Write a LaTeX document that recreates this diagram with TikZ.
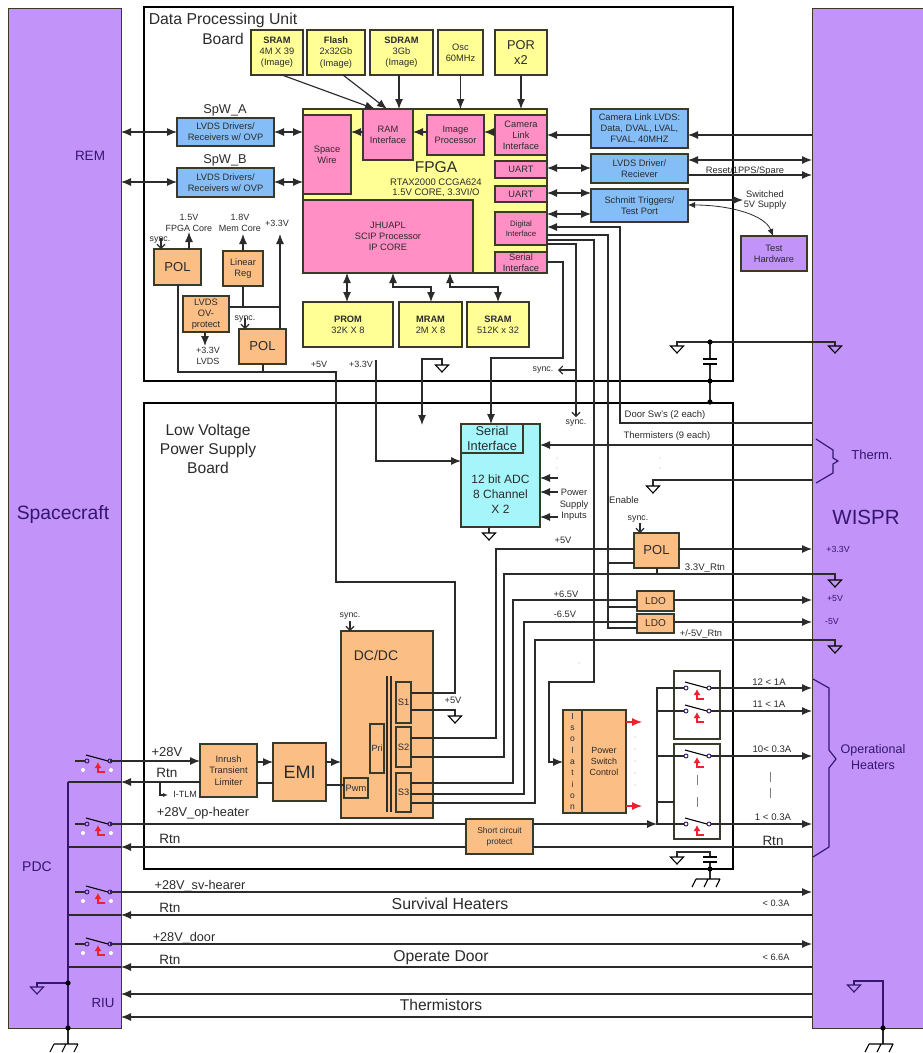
\documentclass[tikz,border=0pt]{standalone}
\usepackage{fontspec}
\setmainfont{Liberation Sans}
\usetikzlibrary{arrows.meta}
\definecolor{panelc}{HTML}{C293F9}
\definecolor{yel}{HTML}{FFFF96}
\definecolor{pnk}{HTML}{FF8FC4}
\definecolor{blu}{HTML}{85BDF6}
\definecolor{org}{HTML}{FBBE85}
\definecolor{cya}{HTML}{A6F5FA}
\definecolor{ink}{HTML}{2B2B2B}
\definecolor{dpur}{HTML}{33166E}
\definecolor{edge}{HTML}{3A3A2A}
\definecolor{pred}{HTML}{F02030}
\newcounter{lblc}
\newcommand{\fsz}[2]{\fontsize{#1}{#2}\selectfont}
\newcommand{\fsl}[1]{\fontsize{#1}{#1}\selectfont\baselineskip=1.22\baselineskip\relax}
\newcommand{\bx}[7]{\node[bxs,#2,minimum width={(#5-#3)*1pt},minimum height={(#6-#4)*1pt},anchor=north west] (#1) at (#3,#4) {#7};}
\newcommand{\lb}[4]{\stepcounter{lblc}\node[lbs,font=\fsl{#3}] (lbl\arabic{lblc}) at (#1,#2) {#4};}
\newcommand{\lbc}[5]{\stepcounter{lblc}\node[lbs,text=#4,font=\fsl{#3}] (lbl\arabic{lblc}) at (#1,#2) {#5};}
\tikzset{
  >={Latex[length=10pt,width=8pt]},
  bxs/.style={draw=edge,line width=1.2pt,inner sep=0pt,outer sep=0pt,align=center,text=ink,font=\fsz{9.3}{11.2}},
  lbs/.style={inner sep=0pt,outer sep=0pt,align=center,text=ink},
  wire/.style={draw=ink,line width=1.15pt},
  pline/.style={draw=dpur,line width=1.15pt},
  barb/.style={>={Straight Barb[length=4pt,width=8pt]}},
  board/.style={draw=black,line width=2pt,fill=white},
  ybox/.style={fill=yel},pbox/.style={fill=pnk},bbox/.style={fill=blu},obox/.style={fill=org},
  gndsym/.pic={\draw[line width=1.1pt] (-6.5,0)--(6.5,0)--(0,7)--cycle;},
  earthsym/.pic={\draw[line width=1.1pt] (-12,0)--(12,0) (-12,0)--(-16,8) (0,0)--(-4,8) (12,0)--(8,8);},
  capsym/.pic={\draw[line width=1.1pt] (-7,0)--(7,0) (-7,5)--(7,5);},
  swsym/.pic={
    \draw[line width=.9pt,dpur] (0,0) circle[radius=2pt] (23,0) circle[radius=2pt];
    \draw[line width=1.1pt,black] (-1,-6)--(21,0);
    \draw[line width=1.1pt,pred,-{Latex[length=6pt,width=7pt]}] (18,11)--(11,11)--(11,1);
  },
  whdots/.pic={\fill[white] (-4,9) circle[radius=2pt] (24,9) circle[radius=2pt];},
  dotm/.style={fill=black},
}
\begin{document}
\begin{tikzpicture}[x=1pt,y=-1pt]
\useasboundingbox (0,0) rectangle (923,1053);
\fill[white] (0,0) rectangle (923,1053);
% side panels
\node[draw=edge,line width=1pt,fill=panelc,minimum width=113pt,minimum height=1020pt,anchor=north west,inner sep=0pt,outer sep=0pt] (spc) at (8,8) {};
\node[draw=edge,line width=1pt,fill=panelc,minimum width=116pt,minimum height=1020pt,anchor=north west,inner sep=0pt,outer sep=0pt] (wsp) at (812,8) {};
% boards
\node[board,minimum width=589pt,minimum height=374pt,anchor=north west,inner sep=0pt,outer sep=0pt] (dpu) at (144,7) {};
\node[board,minimum width=589pt,minimum height=466pt,anchor=north west,inner sep=0pt,outer sep=0pt] (lvps) at (144,403) {};
% DPU blocks
\bx{msram}{ybox}{251}{30}{303}{75}{\textbf{SRAM}\\4M X 39\\(Image)}
\bx{flash}{ybox}{307}{30}{365}{75}{\textbf{Flash}\\2x32Gb\\(Image)}
\bx{sdram}{ybox}{370}{30}{433}{75}{\textbf{SDRAM}\\3Gb\\(Image)}
\bx{osc}{ybox}{438}{30}{483}{75}{Osc\\60MHz}
\bx{por}{ybox,font=\fsz{12.8}{15}}{495}{30}{547}{75}{POR\\x2}
\bx{fpga}{ybox}{303}{109}{547}{273}{}
\bx{ramif}{pbox}{363}{109}{413}{160}{RAM\\Interface}
\bx{imgp}{pbox}{427}{115}{484}{155}{Image\\Processor}
\bx{camif}{pbox}{495}{115}{547}{155}{Camera\\Link\\Interface}
\bx{space}{pbox}{303}{115}{351}{194}{Space\\Wire}
\bx{scip}{pbox}{303}{200}{473}{273}{JHUAPL\\SCIP Processor\\IP CORE}
\bx{uarta}{pbox}{495}{161}{547}{178}{UART}
\bx{uartb}{pbox}{495}{186}{547}{202}{UART}
\bx{digif}{pbox,font=\fsz{7.8}{10}}{495}{212}{547}{245}{Digital\\Interface}
\bx{serif}{pbox}{495}{252}{547}{273}{Serial\\Interface}
\bx{spwa}{bbox}{177}{118}{274}{146}{LVDS Drivers/\\Receivers w/ OVP}
\bx{spwb}{bbox}{177}{168}{274}{197}{LVDS Drivers/\\Receivers w/ OVP}
\bx{camlv}{bbox}{591}{109}{688}{148}{Camera Link LVDS:\\Data, DVAL, LVAL,\\FVAL, 40MHZ}
\bx{lvdsd}{bbox}{591}{154}{688}{183}{LVDS Driver/\\Reciever}
\bx{schm}{bbox}{591}{189}{688}{222}{Schmitt Triggers/\\Test Port}
\bx{testh}{fill=panelc}{741}{236}{807}{271}{Test\\Hardware}
\bx{prom}{ybox}{303}{302}{393}{347}{\textbf{PROM}\\32K X 8}
\bx{mram}{ybox}{399}{302}{462}{347}{\textbf{MRAM}\\2M X 8}
\bx{lsram}{ybox}{467}{302}{529}{347}{\textbf{SRAM}\\512K x 32}
\bx{polone}{obox,font=\fsz{13}{14}}{154}{249}{201}{285}{POL}
\bx{linreg}{obox}{223}{251}{263}{286}{Linear\\Reg}
\bx{lvdsov}{obox}{183}{296}{229}{332}{LVDS\\OV-\\protect}
\bx{poltwo}{obox,font=\fsz{13}{14}}{239}{329}{286}{364}{POL}
% LVPS blocks
\bx{adc}{fill=cya,font=\fsz{12}{15}}{461}{424}{540}{527}{\rule{0pt}{30pt}\\12 bit ADC\\8 Channel\\X 2}
\bx{adcser}{fill=cya,font=\fsz{12.8}{14.5}}{461}{424}{523}{453}{Serial\\Interface}
\bx{polthr}{obox,font=\fsz{13}{14}}{634}{533}{679}{568}{POL}
\bx{ldoa}{obox,font=\fsz{10}{11}}{637}{591}{674}{611}{LDO}
\bx{ldob}{obox,font=\fsz{10}{11}}{637}{614}{674}{633}{LDO}
\bx{dcdc}{obox}{341}{631}{433}{818}{}
\bx{pri}{obox,font=\fsz{9}{11}}{370}{724}{384}{773}{Pri}
\bx{pwm}{obox}{344}{778}{368}{798}{Pwm}
\bx{sa}{obox}{396}{682}{411}{723}{S1}
\bx{sb}{obox}{396}{727}{411}{767}{S2}
\bx{sc}{obox}{396}{773}{411}{812}{S3}
\bx{inrush}{obox}{200}{744}{257}{797}{Inrush\\Transient\\Limiter}
\bx{emi}{obox,font=\fsz{18}{20}}{273}{743}{326}{801}{EMI}
\bx{iso}{obox,font=\fsz{8.5}{11.3}}{563}{710}{582}{813}{I\\s\\o\\l\\a\\t\\i\\o\\n}
\bx{pswc}{obox,font=\fsz{8.9}{11.2}}{582}{710}{626}{813}{Power\\Switch\\Control}
\bx{scp}{obox,font=\fsz{8.4}{11.2}}{466}{819}{533}{854}{Short circuit\\protect}
\node[draw=edge,line width=1.1pt,minimum width=46pt,minimum height=68pt,anchor=north west,inner sep=0pt,outer sep=0pt] (swa) at (674,671) {};
\node[draw=edge,line width=1.1pt,minimum width=46pt,minimum height=95pt,anchor=north west,inner sep=0pt,outer sep=0pt] (swb) at (674,744) {};
% transformer bars
\draw[wire] (387,676)--(387,812) (391,676)--(391,812);
% memory arrows
\draw[wire,->] (msram.south -| 282,0) -- (ramif.north -| 375,0);
\draw[wire,->] (flash.south -| 343,0) -- (ramif.north -| 387,0);
\draw[wire,->] (sdram.south -| 399,0) -- (ramif.north -| 399,0);
\draw[wire,->] (osc.south) -- (fpga.north -| osc.south);
\draw[wire,->] (por.south) -- (fpga.north -| por.south);
% internal FPGA
\draw[wire,->] (imgp.west |- 0,132) -- (ramif.east |- 0,132);
\draw[wire,->] (ramif.west |- 0,132) -- (space.east |- 0,132);
\draw[wire,->] (camif.west |- 0,132) -- (imgp.east |- 0,132);
% SpaceWire
\draw[wire,<->] (spc.east |- 0,132) -- (spwa.west |- 0,132);
\draw[wire,<->] (spc.east |- 0,182) -- (spwb.west |- 0,182);
\draw[wire,<->] (spwa.east |- 0,132) -- (space.west |- 0,132);
\draw[wire,<->] (spwb.east |- 0,182) -- (space.west |- 0,182);
% right of FPGA
\draw[wire,->] (wsp.west |- 0,135) -- (camlv.east |- 0,135);
\draw[wire,->] (camlv.west |- 0,135) -- (camif.east |- 0,135);
\draw[wire,<->] (lvdsd.east |- 0,160) -- (wsp.west |- 0,160);
\draw[wire,->] (lvdsd.east |- 0,175) -- (wsp.west |- 0,175);
\draw[wire,<->] (uarta.east |- 0,168) -- (lvdsd.west |- 0,168);
\draw[wire,<->] (uartb.east |- 0,193) -- (schm.west |- 0,193);
\draw[wire,<->] (digif.east |- 0,214) -- (schm.west |- 0,214);
\coordinate (swsup) at (743,200);
\draw[wire,->] (schm.east |- 0,200) -- (swsup);
\draw[draw=ink,line width=.8pt,<->,>={Latex[length=7pt,width=6pt]}] (schm.east |- 0,205) .. controls (730,205) and (765,215) .. (testh.north -| 773,0);
% DPU to LVPS verticals
\draw[wire,<-] (digif.east |- 0,227) -| (620,423) -- (wsp.west |- 0,423);
\draw[wire] (digif.east |- 0,235) -| (608,628) -- (ldob.west |- 0,628);
\draw[wire] (608,563) -- (polthr.west |- 0,563);
\draw[wire] (608,607) -- (ldoa.west |- 0,607);
\draw[wire,->] (digif.east |- 0,240) -| (594,682) -| (549,762) -- (iso.west |- 0,762);
\coordinate (syncdn) at (576,417);
\draw[wire,->,barb] (digif.east |- 0,244) -| (syncdn);
\coordinate (syncl) at (558,370);
\draw[wire,->,barb] (576,370) -- (syncl);
\draw[wire,->] (serif.east |- 0,262) -| (563,358) -| (adcser.north -| 491,0);
\draw[wire,->] (376,360) |- (adc.west |- 0,461);
\coordinate (dngnd) at (422,425);
\draw[wire,->] (442,365) |- (422,359) -- (dngnd);
% prom etc
\draw[wire,<->] (scip.south -| 347,0) -- (prom.north -| 347,0);
\draw[wire,<->] (scip.south -| 393,0) |- (431,287) -- (mram.north -| 431,0);
\draw[wire,<->] (scip.south -| 450,0) |- (498,287) -- (lsram.north -| 498,0);
% POLs of DPU
\coordinate (vone) at (189,232);
\coordinate (vtwo) at (243,234);
\coordinate (vthr) at (280,234);
\coordinate (vfour) at (205,346);
\draw[wire,->] (polone.north -| 189,0) -- (vone);
\draw[wire,->] (linreg.north -| 243,0) -- (vtwo);
\draw[wire,->] (poltwo.north -| 280,0) -- (vthr);
\draw[wire] (lvdsov.east |- 0,307) -- (280,307);
\draw[wire] (linreg.south -| 243,0) -- (243,307);
\draw[wire,->] (lvdsov.south -| 205,0) -- (vfour);
\draw[wire,->,barb] (161,238) -- (polone.north -| 161,0);
\draw[wire,->,barb] (245,318) -- (poltwo.north -| 245,0);
\draw[wire] (polone.south -| 178,0) |- (336,372) |- (455,582) |- (sa.east |- 0,693);
\draw[wire] (poltwo.south -| 263,0) -- (263,372);
% capacitor and grounds top
\draw[wire] (677,346) |- (710,342) -- (835,342) -- (835,346);
\draw[wire] (710,342) -- (710,359) (710,364) -- (710,402);
\pic at (710,359) {capsym};
\fill[dotm] (710,342) circle[radius=2.6pt] (710,381) circle[radius=2.6pt] (710,402) circle[radius=2.6pt];
\pic at (677,346) {gndsym};
\pic at (835,346) {gndsym};
\pic at (442,365) {gndsym};
% thermistors
\draw[wire,->] (wsp.west |- 0,445) -- (adc.east |- 0,445);
\draw[wire] (wsp.west |- 0,480) -- (653,480) -- (653,486);
\pic at (653,486) {gndsym};
\coordinate (psa) at (558,478);\coordinate (psb) at (558,492);\coordinate (psd) at (558,517);
\draw[wire,<-] (adc.east |- 0,478) -- (psa);
\draw[wire,<-] (adc.east |- 0,492) -- (psb);
\draw[wire,<-] (adc.east |- 0,517) -- (psd);
\draw[wire] (adc.south -| 489,0) -- (489,533);
\pic at (489,533) {gndsym};
% LVPS supply rails
\draw[wire] (sb.east |- 0,738) -| (496,549) -- (polthr.west |- 0,549);
\draw[wire] (sb.east |- 0,757) -| (504,574) -- (835,574) -- (835,580);
\draw[wire] (polthr.south -| 657,0) -- (657,574);
\pic at (835,580) {gndsym};
\draw[wire] (sc.east |- 0,783) -| (513,600) -- (ldoa.west |- 0,600);
\draw[wire] (sc.east |- 0,794) -| (524,622) -- (ldob.west |- 0,622);
\draw[wire] (sc.east |- 0,803) -| (535,640) -- (835,640) -- (835,646);
\pic at (835,646) {gndsym};
\draw[wire,->] (polthr.east |- 0,549) -- (wsp.west |- 0,549);
\draw[wire,->] (ldoa.east |- 0,600) -- (wsp.west |- 0,600);
\draw[wire,->] (ldob.east |- 0,622) -- (wsp.west |- 0,622);
\draw[wire,->,barb] (640,523) -- (polthr.north -| 640,0);
\draw[wire,->,barb] (350,621) -- (dcdc.north -| 350,0);
\draw[wire] (sa.east |- 0,710) -| (455,716);
\pic at (455,716) {gndsym};
% power chain
\draw[wire,->] (inrush.east |- 0,762) -- (emi.west |- 0,762);
\draw[wire] (inrush.east |- 0,783) -- (emi.west |- 0,783);
\draw[wire,->] (emi.east |- 0,762) -- (dcdc.west |- 0,762);
\draw[wire] (emi.east |- 0,785) -- (pwm.west |- 0,785);
\draw[wire] (75,761) -- (85,761);
\draw[wire,->] (110,761) -- (inrush.west |- 0,761);
\draw[wire,->] (inrush.west |- 0,782) -- (spc.east |- 0,782);
\draw[wire] (spc.east |- 0,782) -- (68,782);
\coordinate (itlm) at (168,795);
\draw[wire,->,>={Latex[length=5pt,width=4pt]}] (160,782) |- (itlm);
% op heater
\draw[wire] (75,824) -- (85,824);
\draw[wire] (110,824) -- (scp.west |- 0,824);
\draw[wire,->] (scp.east |- 0,824) -- (657,824);
\draw[wire] (wsp.west |- 0,847) -- (scp.east |- 0,847);
\draw[wire,->] (scp.west |- 0,847) -- (spc.east |- 0,847);
\draw[wire] (spc.east |- 0,847) -- (68,847);
% heater switches
\draw[wire] (684,688) -| (657,824) -- (684,824);
\draw[wire] (657,711) -- (684,711);
\draw[wire] (657,756) -- (684,756);
\draw[wire] (657,802) -- (swb.west |- 0,802);
\pic at (686,688) {swsym};
\pic at (686,711) {swsym};
\pic at (686,756) {swsym};
\pic at (686,824) {swsym};
\draw[wire,->] (711,688) -- (wsp.west |- 0,688);
\draw[wire,->] (711,711) -- (wsp.west |- 0,711);
\draw[wire,->] (711,756) -- (wsp.west |- 0,756);
\draw[wire,->] (711,824) -- (wsp.west |- 0,824);
% psc red arrows
\coordinate (rda) at (642,722);\coordinate (rdb) at (642,806);
\draw[draw=pred,line width=1.1pt,->] (pswc.east |- 0,722) -- (rda);
\draw[draw=pred,line width=1.1pt,->] (pswc.east |- 0,806) -- (rdb);
\foreach \yy in {737,749,761,773,785}{\fill[gray!60] (635,\yy) circle[radius=.7pt];}
\draw[draw=gray,line width=.7pt] (697,775)--(697,785) (697,797)--(697,807) (770,772)--(770,782) (770,788)--(770,798);
\foreach \xx/\yy in {557/458,557/468,660/458,660/468,579/663}{\fill[gray!60] (\xx,\yy) circle[radius=.7pt];}
% bottom capacitor
\draw[wire] (677,857) |- (710,852) -- (710,857) (710,861) -- (710,879);
\pic at (710,857) {capsym};
\pic at (677,857) {gndsym};
\fill[dotm] (710,869) circle[radius=2.6pt];
\pic at (708,879) {earthsym};
% long lines
\draw[wire] (75,892) -- (85,892);\draw[wire,->] (110,892) -- (wsp.west |- 0,892);
\draw[wire,->] (wsp.west |- 0,915) -- (spc.east |- 0,915);\draw[wire] (spc.east |- 0,915) -- (68,915);
\draw[wire] (75,944) -- (85,944);\draw[wire,->] (110,944) -- (wsp.west |- 0,944);
\draw[wire,->] (wsp.west |- 0,967) -- (spc.east |- 0,967);\draw[wire] (spc.east |- 0,967) -- (68,967);
\draw[wire,->] (wsp.west |- 0,994) -- (spc.east |- 0,994);
\draw[wire,->] (wsp.west |- 0,1017) -- (spc.east |- 0,1017);
% left switches
\foreach \yy in {761,824,892,944}{\pic at (87,\yy) {swsym};\pic at (87,\yy) {whdots};}
% panel grounds
\draw[pline] (68,782) -- (68,1028);
\draw[pline] (37,987) |- (68,983);
\pic[dpur] at (37,987) {gndsym};
\draw[wire] (68,1028) -- (68,1044);
\fill[dotm] (68,983) circle[radius=2.6pt] (68,1028) circle[radius=2.6pt];
\pic at (66,1044) {earthsym};
\draw[pline] (854,985) |- (883,981) -- (883,1028);
\pic[dpur] at (854,985) {gndsym};
\draw[wire] (883,1028) -- (883,1044);
\fill[dotm] (883,1028) circle[radius=2.6pt];
\pic at (881,1044) {earthsym};
% braces
\draw[pline] (813,679) -- (829,688) -- (829,750) -- (836,759) -- (829,768) -- (829,847) -- (813,857);
\draw[pline] (816,439) -- (833,450) -- (833,458) -- (838,461) -- (833,464) -- (833,473) -- (816,483);
% text
\lb{223}{20}{15.8}{Data Processing Unit}
\lb{223}{39}{15.5}{Board}
\lb{436}{167}{15.6}{FPGA}
\lb{436}{182}{9.5}{RTAX2000 CCGA624}
\lb{436}{193}{9.5}{1.5V CORE, 3.3VI/O}
\lb{225}{110}{12.8}{SpW\_A}
\lb{225}{160}{12.8}{SpW\_B}
\lbc{90}{156}{13.5}{dpur}{REM}
\lbc{63}{515}{19.3}{dpur}{Spacecraft}
\lbc{866}{517}{20.5}{dpur}{WISPR}
\lbc{37}{867}{14}{dpur}{PDC}
\lbc{103}{1003}{13.3}{dpur}{RIU}
\lb{189}{217}{9}{1.5V}
\lb{189}{228}{9}{FPGA Core}
\lb{240}{217}{9}{1.8V}
\lb{240}{228}{9}{Mem Core}
\lb{277}{223}{9}{+3.3V}
\lb{208}{350}{9}{+3.3V}
\lb{208}{361}{9}{LVDS}
\lb{160}{240}{8.8}{sync.}
\lb{245}{319}{8.8}{sync.}
\lb{319}{364}{9}{+5V}
\lb{361}{364}{9}{+3.3V}
\lb{543}{370}{8.8}{sync.}
\lb{745}{171}{9.3}{Reset/1PPS/Spare}
\lb{765}{194}{9.3}{Switched}
\lb{765}{205}{9.3}{5V Supply}
\lb{208}{449}{15.6}{Low Voltage\\Power Supply\\Board}
\lb{576}{423}{8.8}{sync.}
\lb{665}{415}{9.5}{Door Sw's (2 each)}
\lb{667}{436}{9.4}{Thermisters (9 each)}
\lbc{872}{455}{13}{dpur}{Therm.}
\lb{574}{505}{9.3}{Power\\Supply\\Inputs}
\lb{624}{500}{9.5}{Enable}
\lb{638}{519}{8.8}{sync.}
\lb{563}{540}{9.3}{+5V}
\lb{705}{568}{9.6}{3.3V\_Rtn}
\lb{566}{594}{9.3}{+6.5V}
\lb{565}{614}{9.3}{-6.5V}
\lb{701}{634}{9.3}{+/-5V\_Rtn}
\lbc{838}{549}{8.8}{dpur}{+3.3V}
\lbc{835}{599}{8.8}{dpur}{+5V}
\lbc{832}{622}{8.8}{dpur}{-5V}
\lb{376}{655}{14}{DC/DC}
\lb{453}{700}{9.3}{+5V}
\lb{350}{616}{8.8}{sync.}
\lb{769}{682}{9.6}{12 < 1A}
\lb{769}{704}{9.6}{11 < 1A}
\lb{772}{749}{9.6}{10< 0.3A}
\lb{773}{817}{9.6}{1 < 0.3A}
\lb{773}{841}{13.5}{Rtn}
\lbc{873}{757}{12.5}{dpur}{Operational\\Heaters}
\lb{167}{752}{13}{+28V}
\lb{167}{773}{13.5}{Rtn}
\lb{185}{794}{9}{I-TLM}
\lb{203}{813}{12.8}{+28V\_op-heater}
\lb{170}{839}{13.5}{Rtn}
\lb{200}{886}{12.7}{+28V\_sv-hearer}
\lb{170}{908}{13.5}{Rtn}
\lb{450}{904}{15.9}{Survival Heaters}
\lb{776}{903}{9.2}{< 0.3A}
\lb{184}{938}{12.7}{+28V\_door}
\lb{170}{960}{13.5}{Rtn}
\lb{441}{958}{15.7}{Operate Door}
\lb{776}{957}{9.2}{< 6.6A}
\lb{441}{1005}{15.6}{Thermistors}
\end{tikzpicture}
\end{document}
